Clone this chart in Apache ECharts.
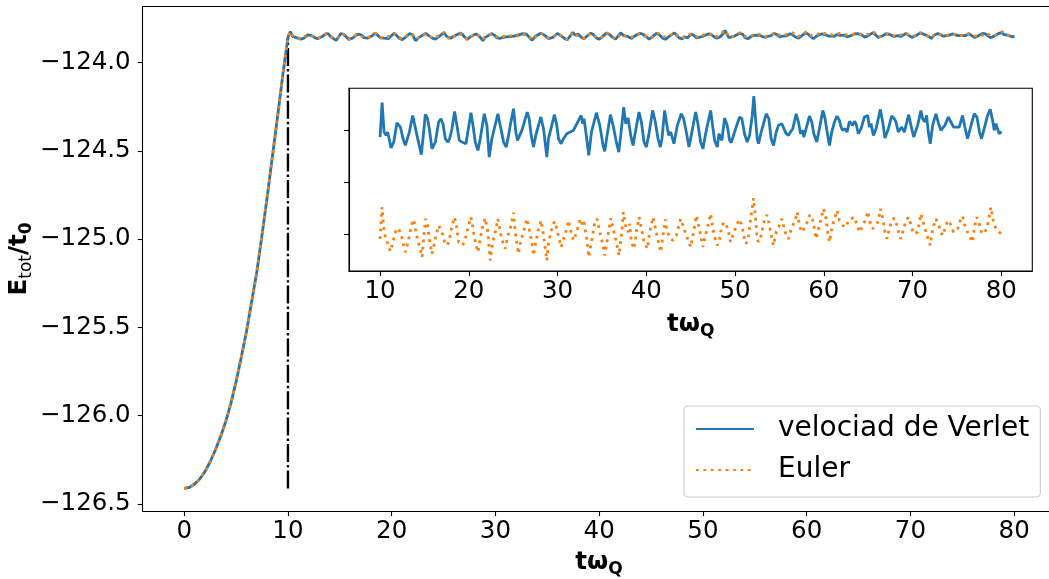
<!DOCTYPE html>
<html>
<head>
<meta charset="utf-8">
<script src="https://cdn.jsdelivr.net/npm/echarts@6/dist/echarts.min.js"></script>
<style>
html,body{margin:0;padding:0;background:#fff;}
#chart{width:1049px;height:579px;}
</style>
</head>
<body>
<div id="chart"></div>
<script>
// ---------- data ----------
const riseT = [0, 0.5, 1, 1.5, 2, 2.5, 3, 3.5, 4, 4.5, 5, 5.5, 6, 6.5, 7, 7.5, 8, 8.5, 9, 9.5];
const riseE = [-126.413, -126.407, -126.388, -126.360, -126.318, -126.262, -126.196, -126.120, -126.035, -125.931,
               -125.808, -125.670, -125.525, -125.355, -125.185, -124.977, -124.760, -124.533, -124.306, -124.070];

const verletTail = [
[10.00,-123.8567],[10.23,-123.8238],[10.45,-123.8519],[10.68,-123.8551],[10.86,-123.8519],[11.24,-123.8672],[11.54,-123.8615],[11.91,-123.8430],[12.29,-123.8471],[12.59,-123.8583],[12.85,-123.8647],[13.04,-123.8631],[13.30,-123.8519],[13.68,-123.8360],[13.90,-123.8375],[14.16,-123.8551],[14.35,-123.8567],[14.65,-123.8736],[14.91,-123.8519],[15.10,-123.8350],[15.36,-123.8391],[15.55,-123.8487],[15.85,-123.8679],[16.23,-123.8615],[16.60,-123.8423],[16.86,-123.8391],[17.09,-123.8439],[17.35,-123.8583],[17.65,-123.8615],[17.84,-123.8583],[18.10,-123.8487],[18.40,-123.8321],[18.66,-123.8455],[18.93,-123.8599],[19.23,-123.8615],[19.41,-123.8599],[19.68,-123.8631],[20.24,-123.8334],[20.47,-123.8455],[20.73,-123.8615],[21.03,-123.8695],[21.29,-123.8583],[21.74,-123.8344],[22.04,-123.8455],[22.30,-123.8759],[22.60,-123.8583],[23.28,-123.8344],[23.54,-123.8455],[23.92,-123.8615],[24.22,-123.8663],[24.48,-123.8551],[24.67,-123.8455],[25.04,-123.8296],[25.30,-123.8519],[25.49,-123.8599],[25.68,-123.8615],[25.98,-123.8503],[26.58,-123.8328],[26.80,-123.8391],[27.03,-123.8551],[27.29,-123.8663],[27.55,-123.8551],[27.85,-123.8455],[28.12,-123.8375],[28.42,-123.8487],[28.60,-123.8615],[28.79,-123.8759],[28.98,-123.8583],[29.35,-123.8455],[29.65,-123.8353],[29.92,-123.8455],[30.11,-123.8583],[30.41,-123.8631],[30.67,-123.8583],[31.04,-123.8535],[31.42,-123.8519],[31.79,-123.8503],[32.66,-123.8360],[32.84,-123.8439],[32.99,-123.8391],[33.29,-123.8583],
[33.52,-123.8743],[33.82,-123.8519],[34.38,-123.8334],[34.76,-123.8455],[35.13,-123.8647],[35.32,-123.8704],[35.58,-123.8551],[35.96,-123.8353],[36.26,-123.8455],[36.63,-123.8615],[36.90,-123.8711],[37.12,-123.8551],[37.46,-123.8280],[37.68,-123.8439],[37.95,-123.8385],[38.25,-123.8551],[38.51,-123.8647],[38.77,-123.8519],[39.18,-123.8328],[39.45,-123.8423],[39.75,-123.8615],[40.01,-123.8663],[40.27,-123.8551],[40.72,-123.8312],[41.02,-123.8423],[41.32,-123.8583],[41.58,-123.8663],[41.77,-123.8583],[42.07,-123.8312],[42.33,-123.8455],[42.52,-123.8551],[42.75,-123.8519],[43.12,-123.8631],[43.50,-123.8455],[43.95,-123.8344],[44.21,-123.8391],[44.51,-123.8519],[44.81,-123.8663],[45.07,-123.8551],[45.56,-123.8328],[45.82,-123.8439],[46.12,-123.8615],[46.39,-123.8679],[46.65,-123.8551],[47.25,-123.8312],[47.47,-123.8455],[47.70,-123.8599],[48.00,-123.8663],[48.19,-123.8535],[48.34,-123.8519],[48.52,-123.8599],[48.82,-123.8385],[49.12,-123.8455],[49.39,-123.8599],[49.57,-123.8621],[49.95,-123.8519],[50.51,-123.8375],[50.77,-123.8391],[51.07,-123.8535],[51.37,-123.8615],[51.64,-123.8551],[51.94,-123.8360],[52.12,-123.8174],[52.31,-123.8391],[52.50,-123.8583],[52.65,-123.8631],[52.95,-123.8519],[53.51,-123.8344],[53.81,-123.8391],[54.07,-123.8583],[54.34,-123.8647],[54.64,-123.8519],[54.90,-123.8455],[55.28,-123.8439],[55.50,-123.8455],[55.76,-123.8535],[56.03,-123.8551],[56.25,-123.8519],[56.51,-123.8487],[56.89,-123.8344],[57.15,-123.8423],[57.38,-123.8535],[57.64,-123.8503],
[57.75,-123.8567],[58.01,-123.8487],[58.39,-123.8366],[58.65,-123.8423],[58.88,-123.8535],[59.21,-123.8615],[59.51,-123.8487],[59.89,-123.8312],[60.15,-123.8391],[60.38,-123.8519],[60.64,-123.8647],[60.90,-123.8519],[61.20,-123.8423],[61.50,-123.8366],[61.76,-123.8407],[61.95,-123.8471],[62.14,-123.8503],[62.40,-123.8487],[62.63,-123.8519],[62.89,-123.8417],[63.26,-123.8455],[63.45,-123.8417],[63.64,-123.8439],[63.90,-123.8535],[64.20,-123.8487],[64.58,-123.8375],[64.95,-123.8360],[65.14,-123.8471],[65.33,-123.8439],[65.59,-123.8551],[65.89,-123.8487],[66.38,-123.8302],[66.64,-123.8423],[66.90,-123.8577],[67.28,-123.8487],[67.65,-123.8366],[67.95,-123.8391],[68.14,-123.8423],[68.40,-123.8519],[68.78,-123.8471],[69.08,-123.8519],[69.57,-123.8353],[69.83,-123.8455],[70.13,-123.8567],[70.28,-123.8583],[70.58,-123.8455],[70.95,-123.8312],[71.14,-123.8391],[71.40,-123.8423],[71.59,-123.8360],[71.78,-123.8519],[72.00,-123.8631],[72.27,-123.8455],[72.64,-123.8344],[72.94,-123.8439],[73.20,-123.8503],[73.39,-123.8487],[73.65,-123.8455],[74.03,-123.8375],[74.33,-123.8423],[74.63,-123.8471],[74.89,-123.8471],[75.27,-123.8471],[75.64,-123.8360],[75.90,-123.8471],[76.20,-123.8583],[76.50,-123.8487],[76.95,-123.8344],[77.26,-123.8375],[77.55,-123.8519],[77.78,-123.8583],[78.08,-123.8487],[78.46,-123.8360],[78.76,-123.8302],[79.02,-123.8407],[79.21,-123.8503],[79.39,-123.8439],[79.58,-123.8487],[79.77,-123.8535],[80.03,-123.8513]
];

const eulerTail = [
[10.00,-123.8542],[10.23,-123.8238],[10.45,-123.8478],[10.68,-123.8542],[10.90,-123.8535],[11.16,-123.8663],[11.54,-123.8542],[11.84,-123.8446],[12.10,-123.8446],[12.40,-123.8510],[12.66,-123.8605],[12.85,-123.8669],[13.15,-123.8573],[13.53,-123.8414],[13.79,-123.8356],[13.98,-123.8446],[14.28,-123.8573],[14.54,-123.8637],[14.73,-123.8717],[14.91,-123.8542],[15.10,-123.8350],[15.36,-123.8414],[15.55,-123.8542],[15.85,-123.8685],[16.23,-123.8542],[16.60,-123.8414],[16.79,-123.8398],[16.98,-123.8478],[17.28,-123.8573],[17.54,-123.8605],[17.80,-123.8557],[18.10,-123.8414],[18.40,-123.8334],[18.66,-123.8446],[18.85,-123.8573],[19.04,-123.8589],[19.30,-123.8605],[19.60,-123.8542],[19.98,-123.8414],[20.24,-123.8334],[20.47,-123.8446],[20.73,-123.8573],[21.03,-123.8669],[21.29,-123.8542],[21.59,-123.8414],[21.85,-123.8344],[22.15,-123.8478],[22.30,-123.8637],[22.42,-123.8749],[22.68,-123.8573],[22.98,-123.8478],[23.28,-123.8350],[23.54,-123.8478],[23.92,-123.8605],[24.10,-123.8637],[24.40,-123.8510],[24.67,-123.8446],[25.04,-123.8292],[25.23,-123.8478],[25.60,-123.8685],[25.90,-123.8542],[26.17,-123.8478],[26.54,-123.8350],[26.80,-123.8446],[27.10,-123.8573],[27.29,-123.8701],[27.55,-123.8573],[27.85,-123.8446],[28.15,-123.8366],[28.42,-123.8510],[28.68,-123.8669],[28.79,-123.8749],[28.98,-123.8573],[29.35,-123.8446],[29.65,-123.8375],[29.92,-123.8446],[30.18,-123.8542],[30.41,-123.8621],[30.67,-123.8542],[31.04,-123.8446],[31.23,-123.8366],[31.53,-123.8478],[31.79,-123.8557],[32.17,-123.8478],[32.54,-123.8350],[32.81,-123.8414],[32.99,-123.8382],[33.29,-123.8542],
[33.52,-123.8717],[33.82,-123.8573],[34.20,-123.8382],[34.46,-123.8350],[34.76,-123.8478],[35.13,-123.8605],[35.32,-123.8701],[35.62,-123.8542],[36.00,-123.8344],[36.26,-123.8446],[36.63,-123.8573],[36.93,-123.8701],[37.20,-123.8510],[37.42,-123.8286],[37.65,-123.8414],[37.95,-123.8478],[38.13,-123.8398],[38.32,-123.8573],[38.62,-123.8637],[38.88,-123.8478],[39.18,-123.8334],[39.45,-123.8446],[39.75,-123.8573],[40.12,-123.8637],[40.38,-123.8478],[40.76,-123.8334],[40.95,-123.8414],[41.25,-123.8526],[41.62,-123.8669],[41.88,-123.8510],[42.15,-123.8356],[42.37,-123.8478],[42.75,-123.8542],[43.01,-123.8557],[43.39,-123.8510],[43.87,-123.8350],[44.14,-123.8414],[44.51,-123.8510],[45.00,-123.8621],[45.26,-123.8510],[45.64,-123.8318],[45.90,-123.8414],[46.20,-123.8542],[46.39,-123.8621],[46.65,-123.8510],[46.95,-123.8414],[47.25,-123.8302],[47.51,-123.8446],[47.77,-123.8542],[48.00,-123.8605],[48.26,-123.8542],[48.52,-123.8414],[48.82,-123.8382],[49.20,-123.8446],[49.50,-123.8573],[49.76,-123.8510],[50.14,-123.8414],[50.51,-123.8356],[50.77,-123.8414],[51.07,-123.8542],[51.26,-123.8589],[51.52,-123.8510],[51.82,-123.8318],[52.09,-123.8152],[52.31,-123.8350],[52.50,-123.8542],[52.65,-123.8573],[52.95,-123.8510],[53.33,-123.8350],[53.59,-123.8312],[53.89,-123.8414],[54.15,-123.8542],[54.34,-123.8605],[54.64,-123.8478],[55.01,-123.8414],[55.28,-123.8350],[55.50,-123.8430],[55.76,-123.8510],[56.03,-123.8542],[56.33,-123.8446],[56.78,-123.8366],[57.00,-123.8286],[57.26,-123.8414],[57.53,-123.8478],
[58.01,-123.8414],[58.39,-123.8318],[58.65,-123.8318],[58.88,-123.8414],[59.14,-123.8542],[59.51,-123.8414],[59.96,-123.8254],[60.26,-123.8350],[60.45,-123.8478],[60.64,-123.8573],[60.90,-123.8446],[61.20,-123.8350],[61.50,-123.8270],[61.76,-123.8366],[62.14,-123.8414],[62.51,-123.8430],[62.78,-123.8366],[63.00,-123.8350],[63.45,-123.8334],[63.83,-123.8430],[64.01,-123.8478],[64.39,-123.8414],[64.76,-123.8350],[64.95,-123.8280],[65.21,-123.8382],[65.51,-123.8446],[65.70,-123.8462],[66.08,-123.8382],[66.38,-123.8254],[66.64,-123.8350],[66.90,-123.8478],[67.13,-123.8542],[67.39,-123.8446],[67.65,-123.8366],[67.95,-123.8344],[68.25,-123.8414],[68.52,-123.8510],[68.70,-123.8542],[69.00,-123.8446],[69.27,-123.8366],[69.57,-123.8334],[69.83,-123.8414],[70.13,-123.8494],[70.28,-123.8510],[70.58,-123.8478],[70.95,-123.8302],[71.14,-123.8366],[71.52,-123.8478],[72.00,-123.8605],[72.27,-123.8446],[72.64,-123.8350],[72.90,-123.8398],[73.20,-123.8478],[73.39,-123.8510],[73.65,-123.8446],[73.95,-123.8366],[74.25,-123.8398],[74.63,-123.8478],[75.08,-123.8446],[75.45,-123.8350],[75.64,-123.8324],[75.90,-123.8414],[76.20,-123.8478],[76.58,-123.8542],[76.77,-123.8573],[76.95,-123.8446],[77.26,-123.8334],[77.52,-123.8398],[77.78,-123.8478],[78.08,-123.8494],[78.46,-123.8414],[78.83,-123.8239],[79.13,-123.8382],[79.39,-123.8446],[79.77,-123.8478],[80.03,-123.8494]
];

// reference line at t = 10
const vlineT = 10;
const vlineBottom = -126.413;
const vlineTop = -123.86;

// inset: Euler drawn shifted down by this amount
const eulerInsetOffset = 0.1;

// tick labels
const mainXTicks = [0, 10, 20, 30, 40, 50, 60, 70, 80];
const mainYTicks = [-126.5, -126.0, -125.5, -125.0, -124.5, -124.0];
const insetXTicks = [10, 20, 30, 40, 50, 60, 70, 80];
const insetYTicks = [-123.95, -123.90, -123.85];

const seriesNames = ['velociad de Verlet', 'Euler'];

// ---------- build ----------
const FONT = 'DejaVu Sans';
const BLUE = '#1f77b4', ORANGE = '#ff7f0e';
const rise = riseT.map((t, i) => [t, riseE[i]]);
const mainVerlet = rise.concat(verletTail);
const mainEuler = rise.concat(eulerTail);
const insetEuler = eulerTail.map(p => [p[0], p[1] - eulerInsetOffset]);

function fmt(v) {
  return (v < 0 ? '\u2212' : '') + Math.abs(v).toFixed(1);
}

const axisLineStyle = { onZero: false, lineStyle: { color: '#000', width: 1.1 } };
const tickStyle = { lineStyle: { color: '#000', width: 1.1 }, length: 5, inside: false };
const labelStyle = { color: '#000', fontFamily: FONT, fontSize: 24.5 };

const chart = echarts.init(document.getElementById('chart'), null, { renderer: 'canvas' });

const richLabel = {
  b:  { fontFamily: FONT, fontWeight: 'bold', fontSize: 24.5, lineHeight: 31, fill: '#000' },
  s:  { fontFamily: FONT, fontWeight: 'normal', fontSize: 17, lineHeight: 17, verticalAlign: 'bottom', fill: '#000' },
  bs: { fontFamily: FONT, fontWeight: 'bold', fontSize: 17, lineHeight: 17, verticalAlign: 'bottom', fill: '#000' }
};

const option = {
  animation: false,
  backgroundColor: '#fff',
  grid: [
    { left: 142.7, top: 6.7, width: 913, bottom: 68, outerBoundsMode: 'none', containLabel: false, show: false },
    { left: 349, top: 88.3, width: 683.3, height: 182.7, outerBoundsMode: 'none', containLabel: false,
      show: true, borderColor: '#000', borderWidth: 1.1, backgroundColor: '#fff', z: 3 }
  ],
  xAxis: [
    { gridIndex: 0, type: 'value', min: -4, max: 84, axisLine: axisLineStyle,
      axisTick: Object.assign({ customValues: mainXTicks }, tickStyle),
      axisLabel: Object.assign({ customValues: mainXTicks, margin: 8 }, labelStyle),
      splitLine: { show: false } },
    { gridIndex: 1, type: 'value', min: 6.5, max: 83.5, axisLine: axisLineStyle,
      axisTick: Object.assign({ customValues: insetXTicks }, tickStyle),
      axisLabel: Object.assign({ customValues: insetXTicks, margin: 8 }, labelStyle),
      splitLine: { show: false }, z: 3 },
    { gridIndex: 0, type: 'value', position: 'top', min: -4, max: 84, axisLine: axisLineStyle,
      axisTick: { show: false }, axisLabel: { show: false }, splitLine: { show: false } }
  ],
  yAxis: [
    { gridIndex: 0, type: 'value', min: -126.541, max: -123.683, axisLine: axisLineStyle,
      axisTick: Object.assign({ customValues: mainYTicks }, tickStyle),
      axisLabel: Object.assign({ customValues: mainYTicks, margin: 12, formatter: fmt }, labelStyle),
      splitLine: { show: false } },
    { gridIndex: 1, type: 'value', min: -123.985, max: -123.810, axisLine: axisLineStyle,
      axisTick: Object.assign({ customValues: insetYTicks }, tickStyle),
      axisLabel: { show: false },
      splitLine: { show: false }, z: 3 }
  ],
  legend: {
    data: seriesNames,
    orient: 'vertical',
    left: 684, top: 406,
    itemWidth: 58, itemHeight: 14, itemGap: 9,
    padding: [7, 11, 11, 11],
    backgroundColor: 'rgba(255,255,255,0.8)',
    borderColor: '#cccccc', borderWidth: 1.1, borderRadius: 4,
    itemStyle: { opacity: 0 },
    textStyle: { color: '#000', fontFamily: FONT, fontSize: 28, lineHeight: 32, padding: [0, 0, 0, 19] },
    z: 10
  },
  graphic: [
    { type: 'text', x: 20, y: 259, rotation: Math.PI / 2, z: 10,
      style: { text: '{b|E}{s|tot}{b|/t}{bs|0}', rich: richLabel, align: 'center', verticalAlign: 'middle' } },
    { type: 'text', x: 599, y: 563, z: 10,
      style: { text: '{b|t\u03c9}{bs|Q}', rich: richLabel, align: 'center', verticalAlign: 'middle' } },
    { type: 'text', x: 690.7, y: 325, z: 10,
      style: { text: '{b|t\u03c9}{bs|Q}', rich: richLabel, align: 'center', verticalAlign: 'middle' } }
  ],
  series: [
    { type: 'line', name: 'vline', xAxisIndex: 0, yAxisIndex: 0, data: [[vlineT, vlineBottom], [vlineT, vlineTop]],
      symbol: 'none', silent: true, z: 1,
      lineStyle: { color: '#000', width: 2.4, type: [18, 3, 2.4, 3], cap: 'butt' } },
    { type: 'line', name: seriesNames[0], xAxisIndex: 0, yAxisIndex: 0, data: mainVerlet,
      symbol: 'none', z: 2, lineStyle: { color: BLUE, width: 2.8 }, itemStyle: { color: BLUE } },
    { type: 'line', name: seriesNames[1], xAxisIndex: 0, yAxisIndex: 0, data: mainEuler,
      symbol: 'none', z: 2, lineStyle: { color: ORANGE, width: 2.8, type: [2.8, 4.6], cap: 'butt' }, itemStyle: { color: ORANGE } },
    { type: 'line', name: 'inset Verlet', xAxisIndex: 1, yAxisIndex: 1, data: verletTail,
      symbol: 'none', z: 4, lineStyle: { color: BLUE, width: 2.8 } },
    { type: 'line', name: 'inset Euler', xAxisIndex: 1, yAxisIndex: 1, data: insetEuler,
      symbol: 'none', z: 4, lineStyle: { color: ORANGE, width: 2.8, type: [2.8, 4.6], cap: 'butt' } }
  ]
};
chart.setOption(option);
</script>
</body>
</html>
